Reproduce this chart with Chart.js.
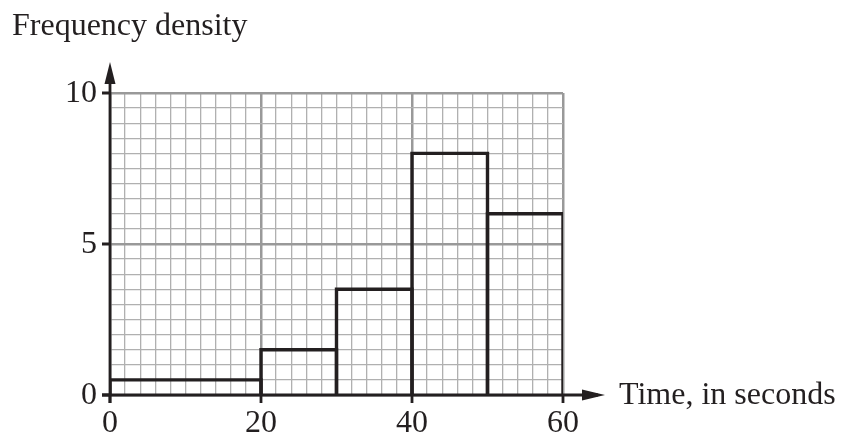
<!DOCTYPE html>
<html>
<head>
<meta charset="utf-8">
<script src="https://cdn.jsdelivr.net/npm/chart.js@4.4.0/dist/chart.umd.min.js"></script>
<style>
  html, body { margin: 0; padding: 0; background: #fff; }
  #wrap { width: 843px; height: 437px; }
</style>
</head>
<body>
<div id="wrap"><canvas id="myChart" width="843" height="437"></canvas></div>
<script>
// histogram data
const binEdges = [0, 20, 30, 40, 50, 60];
const densities = [0.5, 1.5, 3.5, 8, 6];
const xTickLabels = [0, 20, 40, 60];
const yTickLabels = [0, 5, 10];
const yTitle = "Frequency density";
const xTitle = "Time, in seconds";

const ink = "#231f20";
const font = "32px 'Liberation Serif', 'DejaVu Serif', serif";

// one outline per bar: up the left side, across the top, down the right side
const datasets = densities.map((h, i) => ({
  data: [
    { x: binEdges[i], y: 0 },
    { x: binEdges[i], y: h },
    { x: binEdges[i + 1], y: h },
    { x: binEdges[i + 1], y: 0 },
  ],
  borderColor: ink,
  borderWidth: 3.4,
  borderJoinStyle: "miter",
  pointRadius: 0,
  tension: 0,
  fill: false,
}));

const axesPlugin = {
  id: "axesPlugin",
  afterDraw(chart) {
    const ctx = chart.ctx;
    const xs = chart.scales.x;
    const ys = chart.scales.y;
    const x0 = xs.getPixelForValue(0);
    const y0 = ys.getPixelForValue(0);
    const tick = 8;

    ctx.save();
    ctx.strokeStyle = ink;
    ctx.fillStyle = ink;
    ctx.lineWidth = 2.8;
    ctx.lineCap = "butt";

    // axis lines
    ctx.beginPath();
    ctx.moveTo(x0 - tick, y0);
    ctx.lineTo(598, y0);
    ctx.moveTo(x0, y0 + tick);
    ctx.lineTo(x0, 70);
    ctx.stroke();

    // arrow heads
    ctx.beginPath();
    ctx.moveTo(605, y0);
    ctx.lineTo(582, y0 - 5.5);
    ctx.lineTo(582, y0 + 5.5);
    ctx.closePath();
    ctx.fill();
    ctx.beginPath();
    ctx.moveTo(x0, 62);
    ctx.lineTo(x0 - 5.5, 84);
    ctx.lineTo(x0 + 5.5, 84);
    ctx.closePath();
    ctx.fill();

    // tick marks
    ctx.beginPath();
    xTickLabels.forEach(v => {
      const px = xs.getPixelForValue(v);
      ctx.moveTo(px, y0);
      ctx.lineTo(px, y0 + tick);
    });
    yTickLabels.forEach(v => {
      const py = ys.getPixelForValue(v);
      ctx.moveTo(x0 - tick, py);
      ctx.lineTo(x0, py);
    });
    ctx.stroke();

    // labels
    ctx.font = font;
    ctx.textAlign = "center";
    ctx.textBaseline = "alphabetic";
    xTickLabels.forEach(v => {
      ctx.fillText(String(v), xs.getPixelForValue(v), y0 + 37);
    });
    ctx.textAlign = "right";
    ctx.textBaseline = "middle";
    yTickLabels.forEach(v => {
      ctx.fillText(String(v), x0 - 13, ys.getPixelForValue(v) + 1);
    });
    ctx.textAlign = "left";
    ctx.fillText(xTitle, 619, y0 + 1);
    ctx.textBaseline = "alphabetic";
    ctx.fillText(yTitle, 12, 35);
    ctx.restore();
  },
};

new Chart("myChart", {
  type: "line",
  data: { datasets },
  options: {
    responsive: false,
    animation: false,
    events: [],
    layout: { padding: { left: 110, right: 280, top: 93, bottom: 42 } },
    plugins: { legend: { display: false }, tooltip: { enabled: false } },
    scales: {
      x: {
        type: "linear",
        min: 0,
        max: 60,
        border: { display: false },
        ticks: { display: false, stepSize: 2 },
        grid: {
          drawTicks: false,
          color: c => (c.tick.value % 20 === 0 ? "#999999" : "#b0b0b0"),
          lineWidth: c => (c.tick.value % 20 === 0 ? 2.5 : 1.3),
        },
      },
      y: {
        type: "linear",
        min: 0,
        max: 10,
        border: { display: false },
        ticks: { display: false, stepSize: 0.5 },
        grid: {
          drawTicks: false,
          color: c => (c.tick.value % 5 === 0 ? "#999999" : "#b0b0b0"),
          lineWidth: c => (c.tick.value % 5 === 0 ? 2.5 : 1.3),
        },
      },
    },
  },
  plugins: [axesPlugin],
});
</script>
</body>
</html>
